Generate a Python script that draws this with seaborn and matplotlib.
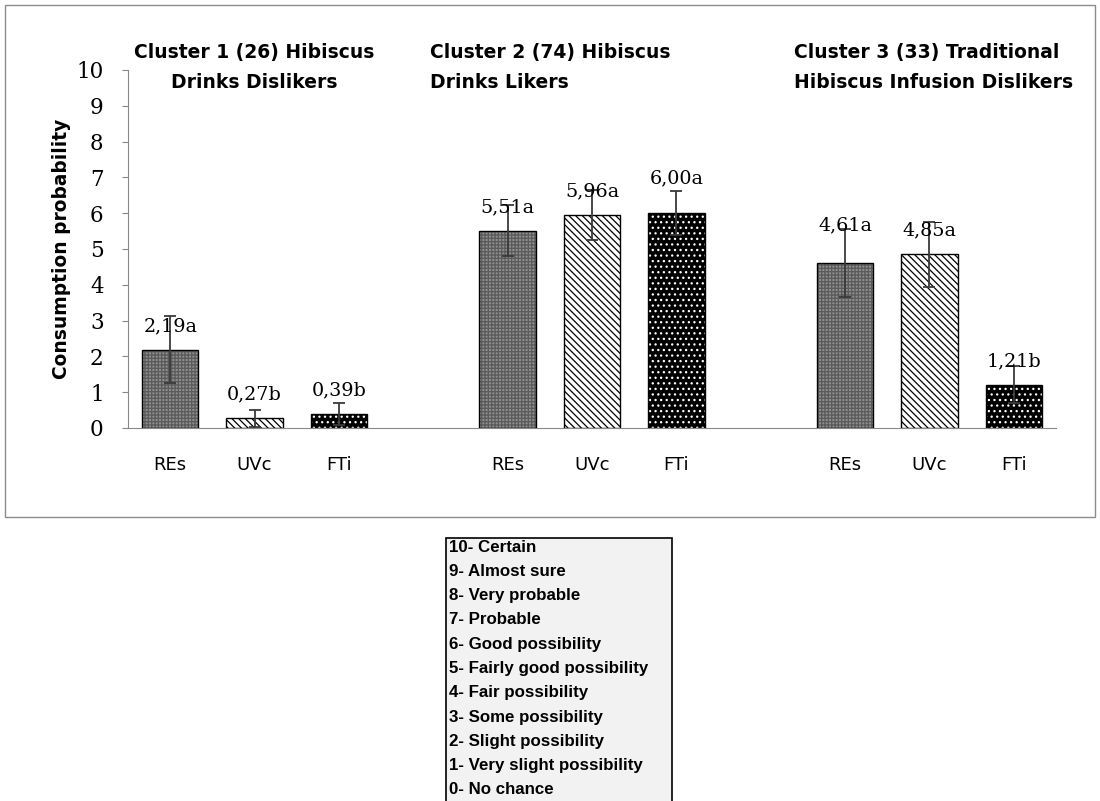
import numpy as np
import pandas as pd
import matplotlib as mpl
from matplotlib import pyplot as plt
from matplotlib.patches import Rectangle
import seaborn as sns

# data
clusters = ["Cluster 1", "Cluster 2", "Cluster 3"]
cluster_titles = [
    "Cluster 1 (26) Hibiscus\nDrinks Dislikers",
    "Cluster 2 (74) Hibiscus\nDrinks Likers",
    "Cluster 3 (33) Traditional\nHibiscus Infusion Dislikers",
]
treatments = ["REs", "UVc", "FTi"]
means = {
    "REs": [2.19, 5.51, 4.61],
    "UVc": [0.27, 5.96, 4.85],
    "FTi": [0.39, 6.00, 1.21],
}
errors = {
    "REs": [0.93, 0.72, 0.95],
    "UVc": [0.23, 0.70, 0.90],
    "FTi": [0.31, 0.62, 0.52],
}
letters = {
    "REs": ["a", "a", "a"],
    "UVc": ["b", "a", "a"],
    "FTi": ["b", "a", "b"],
}
scale_labels = [
    "10- Certain", "9- Almost sure", "8- Very probable", "7- Probable",
    "6- Good possibility", "5- Fairly good possibility", "4- Fair possibility",
    "3- Some possibility", "2- Slight possibility", "1- Very slight possibility",
    "0- No chance",
]

rows = []
for t in treatments:
    for i, c in enumerate(clusters):
        rows.append({"cluster": c, "treatment": t, "mean": means[t][i], "err": errors[t][i]})
df = pd.DataFrame(rows)

sns.set_style("white")
mpl.rcParams["hatch.linewidth"] = 0.9
mpl.rcParams["text.color"] = "black"
mpl.rcParams["axes.labelcolor"] = "black"
mpl.rcParams["xtick.color"] = "black"
mpl.rcParams["ytick.color"] = "black"
sans = ["DejaVu Sans"]
serif = ["DejaVu Serif"]

fig = plt.figure(figsize=(11, 8.01), dpi=100)
ax = fig.add_axes([0.1164, 0.4657, 0.8436, 0.447])

palette = {"REs": "#8e8e8e", "UVc": "white", "FTi": "black"}
sns.barplot(data=df, x="cluster", y="mean", hue="treatment", order=clusters,
            hue_order=treatments, palette=palette, errorbar=None,
            width=0.75, gap=0.33, legend=False, ax=ax)

hatches = {"REs": "+++++", "UVc": "\\\\\\\\\\", "FTi": "..."}
hatch_colors = {"REs": "#5a5a5a", "UVc": "black", "FTi": "white"}
label_lift = {"REs": [17, 17, 27], "UVc": [17, 17, 17], "FTi": [17, 25, 17]}

centers = []
for t, cont in zip(treatments, ax.containers):
    xs = []
    for i, bar in enumerate(cont):
        bar.set_hatch(hatches[t])
        bar.set_edgecolor(hatch_colors[t])
        bar.set_linewidth(0)
        ax.add_patch(Rectangle(bar.get_xy(), bar.get_width(), bar.get_height(),
                               fill=False, edgecolor="black", lw=1, zorder=3))
        x = bar.get_x() + bar.get_width() / 2
        xs.append(x)
        ax.annotate(f"{means[t][i]:.2f}".replace(".", ",") + letters[t][i],
                    (x, bar.get_height()), xytext=(0, label_lift[t][i]),
                    textcoords="offset points", ha="center", va="center",
                    fontsize=13.8, family=serif, zorder=5)
    ax.errorbar(xs, means[t], yerr=errors[t], fmt="none", ecolor="#3a3a3a",
                elinewidth=1.3, capsize=4, capthick=1.3, zorder=4)
    centers += [(x, t) for x in xs]

centers.sort()
ax.set_xticks([c[0] for c in centers])
ax.set_xticklabels([c[1] for c in centers], family=sans, fontsize=13)
ax.set_xticks(np.arange(-0.375, 2.376, 0.25), minor=True)
ax.tick_params(axis="x", which="major", length=0, pad=20)
ax.tick_params(axis="x", which="minor", length=5, color="#888888", direction="out")
ax.set_xlim(-0.375, 2.375)
ax.set_xlabel("")

ax.set_ylim(0, 10)
ax.set_yticks(range(0, 11))
ax.set_yticklabels([str(v) for v in range(0, 11)], family=serif, fontsize=15.5)
ax.tick_params(axis="y", length=4.5, color="#888888", labelcolor="black",
               direction="out", left=True, pad=13)
ax.set_ylabel("Consumption probability", family=sans, fontsize=13.4,
              fontweight="bold", labelpad=4)

for s in ["top", "right"]:
    ax.spines[s].set_visible(False)
for s in ["left", "bottom"]:
    ax.spines[s].set_color("#888888")

# cluster headings
title_pos = [(0.0, "center"), (0.52, "left"), (1.6, "left")]
for (x, ha), txt in zip(title_pos, cluster_titles):
    ax.text(x, 10.07, txt, ha=ha, va="center", multialignment=ha,
            family=sans, fontsize=13.5, fontweight="bold", linespacing=1.75,
            clip_on=False)

# frame around the chart
fig.patches.append(Rectangle((5 / 1100, 1 - 517 / 801), 1090 / 1100, 512 / 801,
                             transform=fig.transFigure, fill=False,
                             edgecolor="#8c8c8c", lw=1))

# scale explanation box
fig.patches.append(Rectangle((446 / 1100, -0.01), 226 / 1100, 1 - 538 / 801 + 0.01,
                             transform=fig.transFigure, facecolor="#f2f2f2",
                             edgecolor="black", lw=1.2))
for k, line in enumerate(scale_labels):
    fig.text(449 / 1100, 1 - (547 + k * 24.3) / 801, line, ha="left", va="center",
             family=["Liberation Sans", "DejaVu Sans"], fontweight="bold", fontsize=12.2)

fig.savefig("out.png", dpi=100)
